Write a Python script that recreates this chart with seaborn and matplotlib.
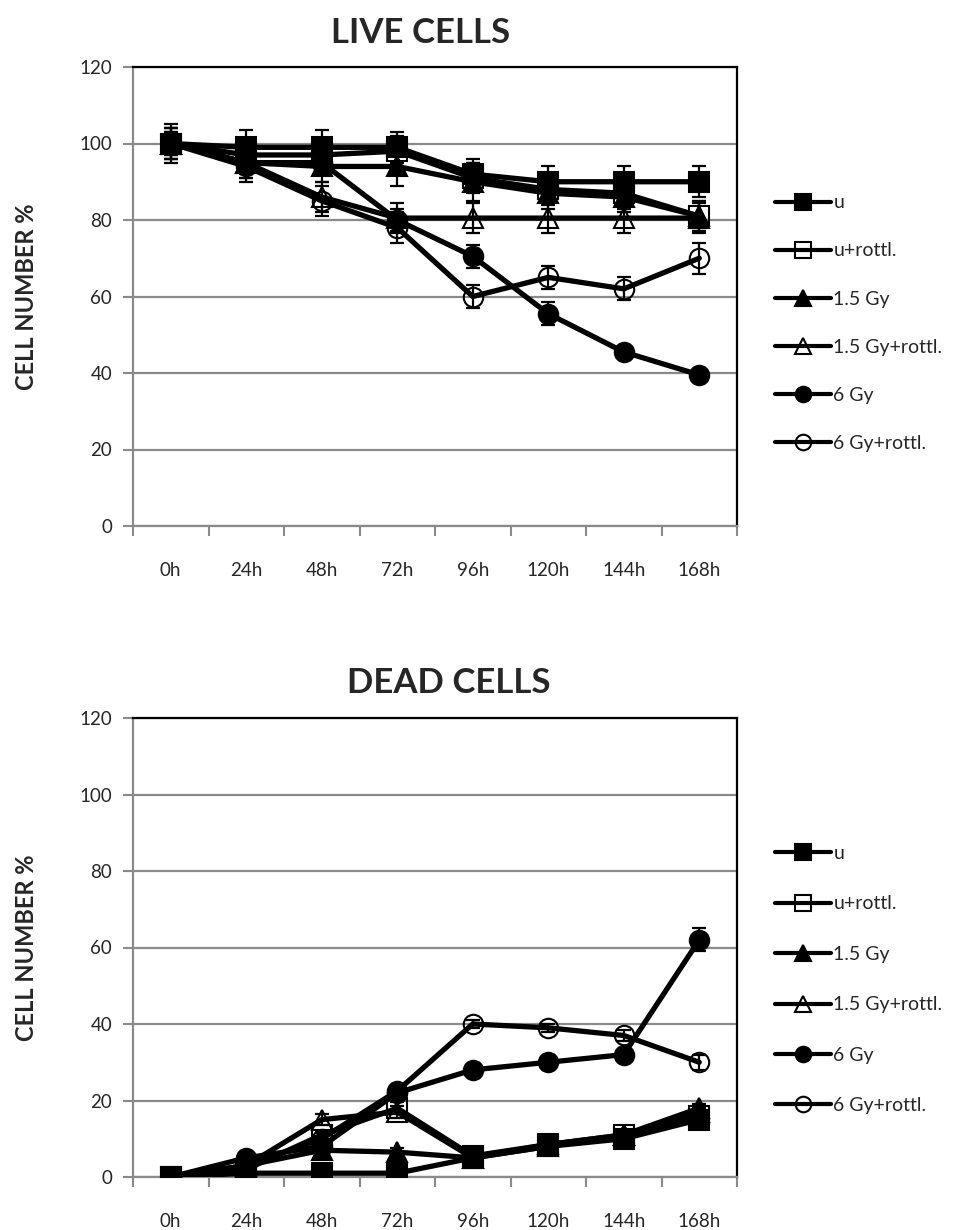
import numpy as np
import pandas as pd
import matplotlib.pyplot as plt
import seaborn as sns

sns.set_style("white")
plt.rcParams['font.family'] = ['Lato', 'DejaVu Sans']

hours = ["0h", "24h", "48h", "72h", "96h", "120h", "144h", "168h"]
groups = ["u", "u+rottl.", "1.5 Gy", "1.5 Gy+rottl.", "6 Gy", "6 Gy+rottl."]
markers = ["s", "s", "^", "^", "o", "o"]
filled = [True, False, True, False, True, False]

# live cells (%)
live_u = [100, 99, 99, 99, 92, 90, 90, 90]
live_u_rottl = [100, 97, 97, 98, 91, 88, 87, 81]
live_15 = [100, 95, 94, 94, 90, 87, 86, 81]
live_15_rottl = [100, 95, 86, 80.5, 80.5, 80.5, 80.5, 80.5]
live_6 = [100, 95, 95, 80, 70.5, 55.5, 45.5, 39.5]
live_6_rottl = [100, 94, 85, 78, 60, 65, 62, 70]

live_u_err = [5, 4.5, 4.5, 4, 4, 4, 4, 4]
live_u_rottl_err = [4, 4, 4, 4, 4, 4, 4, 4]
live_15_err = [4, 4, 4, 5, 5, 4, 4, 4]
live_15_rottl_err = [4, 4, 4, 4, 4, 4, 4, 4]
live_6_err = [3, 3, 3, 3, 3, 3, 1.5, 1.5]
live_6_rottl_err = [3, 4, 4, 4, 3, 3, 3, 4]

# dead cells (%)
dead_u = [0, 1, 1, 1, 5, 8, 10, 15]
dead_u_rottl = [0, 2, 11, 18, 5.5, 8.5, 11, 16]
dead_15 = [0, 3, 7, 6.5, 5, 8.5, 11, 18]
dead_15_rottl = [0, 3, 15, 17, 5, 8, 11, 17]
dead_6 = [0, 5, 8, 22, 28, 30, 32, 62]
dead_6_rottl = [0, 3, 10, 22.5, 40, 39, 37, 30]

dead_u_err = [0.5, 0.5, 0.5, 0.5, 1, 1, 1, 1]
dead_u_rottl_err = [0.5, 1, 1, 1.5, 1, 1, 1, 1]
dead_15_err = [0.5, 1, 1, 1, 1, 1, 1, 1]
dead_15_rottl_err = [0.5, 1, 1.5, 1.5, 1, 1, 1, 1]
dead_6_err = [0.5, 1, 1, 1, 1, 1, 1, 3]
dead_6_rottl_err = [0.5, 1, 1.5, 1.5, 1, 1, 1.5, 2]

live = [live_u, live_u_rottl, live_15, live_15_rottl, live_6, live_6_rottl]
live_err = [live_u_err, live_u_rottl_err, live_15_err, live_15_rottl_err, live_6_err, live_6_rottl_err]
dead = [dead_u, dead_u_rottl, dead_15, dead_15_rottl, dead_6, dead_6_rottl]
dead_err = [dead_u_err, dead_u_rottl_err, dead_15_err, dead_15_rottl_err, dead_6_err, dead_6_rottl_err]

W, H = 967, 1230
fig = plt.figure(figsize=(W / 100, H / 100), dpi=100)

GRID = "#8a8a8a"


def draw(ax, values, errors, leg_y, leg_space):
    rows = []
    for g, vals, errs in zip(groups, values, errors):
        for i, (v, e) in enumerate(zip(vals, errs)):
            rows.append({"group": g, "pos": i, "value": v, "err": e})
    df = pd.DataFrame(rows)
    for k, (g, m, f) in enumerate(zip(groups, markers, filled)):
        sub = df[df["group"] == g]
        ax.errorbar(sub["pos"], sub["value"], yerr=sub["err"], fmt="none",
                    ecolor="black", elinewidth=1.6, capsize=5, capthick=1.6, zorder=3 + k)
        sns.lineplot(data=sub, x="pos", y="value", ax=ax, color="black", lw=3.8,
                     marker=m, markersize=14 if m != "^" else 15,
                     markerfacecolor="black" if f else "none",
                     markeredgecolor="black", markeredgewidth=1.5,
                     label=g, zorder=3 + k)
    ax.set_xlim(-0.5, 7.5)
    ax.set_ylim(0, 120)
    ax.set_yticks(range(0, 121, 20))
    ax.set_xticks(range(8))
    ax.set_xticklabels(hours)
    ax.set_xticks(np.arange(-0.5, 8, 1), minor=True)
    ax.tick_params(axis="x", which="major", length=0, pad=26, labelsize=13.5)
    ax.tick_params(axis="x", which="minor", length=7, width=1.5, color=GRID, direction="out", bottom=True)
    ax.tick_params(axis="y", length=7, width=1.5, color=GRID, direction="out", left=True, labelsize=13.5, pad=8)
    ax.yaxis.grid(True, color=GRID, lw=1.6)
    ax.set_axisbelow(True)
    for s in ["left", "bottom"]:
        ax.spines[s].set_color(GRID)
        ax.spines[s].set_linewidth(1.6)
    for s in ["top", "right"]:
        ax.spines[s].set_color("black")
        ax.spines[s].set_linewidth(1.6)
    ax.set_xlabel("")
    ax.set_ylabel("CELL NUMBER %", fontsize=17, fontweight="bold")
    ax.yaxis.set_label_coords(-0.158, 0.5)
    leg = ax.legend(loc="center left", bbox_to_anchor=(1.063, leg_y), frameon=False,
                    fontsize=14, handlelength=2.9, handletextpad=0.1, labelspacing=leg_space,
                    markerscale=0.8, borderpad=0, borderaxespad=0)
    for h in leg.legend_handles:
        h.set_linewidth(3)


ax1 = fig.add_axes([133 / W, 1 - 526 / H, 604 / W, 459 / H])
draw(ax1, live, live_err, 0.442, 1.6)
fig.text(421 / W, 1 - 43 / H, "LIVE CELLS", fontsize=25, fontweight="bold", ha="center", va="baseline")

ax2 = fig.add_axes([133 / W, 1 - 1177 / H, 604 / W, 459 / H])
draw(ax2, dead, dead_err, 0.43, 1.72)
fig.text(449 / W, 1 - 693 / H, "DEAD CELLS", fontsize=25, fontweight="bold", ha="center", va="baseline")

fig.savefig("out.png", dpi=100)
